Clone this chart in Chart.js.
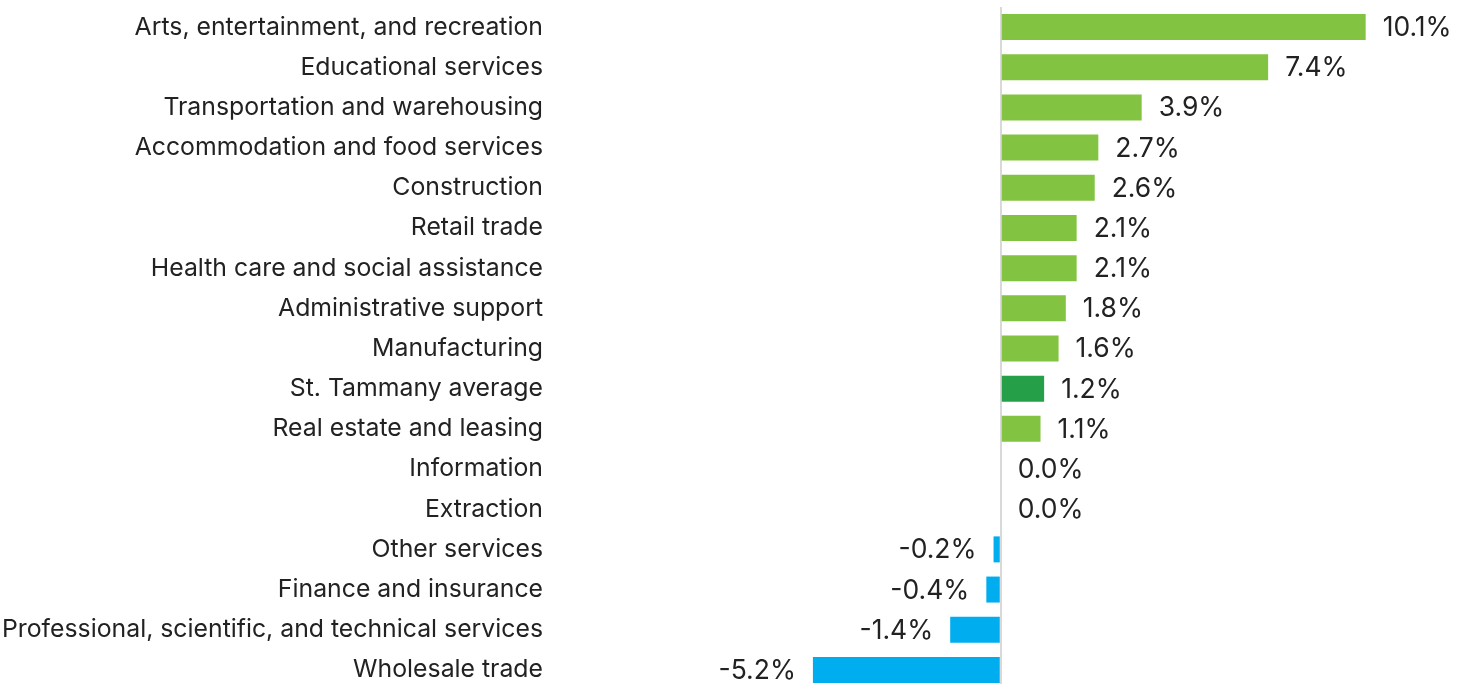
<!DOCTYPE html>
<html><head><meta charset="utf-8">
<script src="https://cdn.jsdelivr.net/npm/chart.js@4.4.1/dist/chart.umd.min.js"></script>
<style>html,body{margin:0;padding:0;background:#fff;overflow:hidden;width:1471px;height:684px}#wrap{width:1471px;height:697px;position:relative}</style>
</head><body><div id="wrap"><canvas id="c"></canvas></div>
<script>
const categories = ["Arts, entertainment, and recreation","Educational services","Transportation and warehousing","Accommodation and food services","Construction","Retail trade","Health care and social assistance","Administrative support","Manufacturing","St. Tammany average","Real estate and leasing","Information","Extraction","Other services","Finance and insurance","Professional, scientific, and technical services","Wholesale trade"];
const values = [10.1,7.4,3.9,2.7,2.6,2.1,2.1,1.8,1.6,1.2,1.1,0.0,0.0,-0.2,-0.4,-1.4,-5.2];
const highlight = "St. Tammany average";
const FONT = "Inter";
const colors = values.map((v,i)=> categories[i]===highlight ? "#25A048" : (v<0 ? "#00AEEF" : "#82C341"));

const valueLabels = {
  id:'valueLabels',
  afterDatasetsDraw(chart){
    const ctx = chart.ctx, meta = chart.getDatasetMeta(0), xs = chart.scales.x;
    ctx.save();
    ctx.font = "26.5px " + FONT;
    ctx.fillStyle = "#222";
    ctx.textBaseline = "middle";
    meta.data.forEach((bar,i)=>{
      const v = values[i];
      const t = v.toFixed(1) + "%";
      if (v < 0){ ctx.textAlign = "right"; ctx.fillText(t, bar.x - 17, bar.y + 1); }
      else { ctx.textAlign = "left"; ctx.fillText(t, Math.max(bar.x, xs.getPixelForValue(0)) + 17, bar.y + 1); }
    });
    ctx.restore();
  }
};

new Chart(document.getElementById('c'), {
  type:'bar',
  data:{labels:categories, datasets:[{data:values, backgroundColor:colors, borderWidth:0, barPercentage:0.647, categoryPercentage:1}]},
  options:{
    indexAxis:'y', responsive:true, maintainAspectRatio:false, animation:false,
    layout:{padding:{top:7,bottom:7,left:0,right:71}},
    plugins:{legend:{display:false}, tooltip:{enabled:false}},
    scales:{
      x:{min:-12.2, max:11.05, ticks:{display:false, stepSize:1}, border:{display:false},
         afterFit:(s)=>{s.height=0; s.paddingLeft=0; s.paddingRight=0;},
         grid:{drawTicks:false, lineWidth:2, color:(c)=> c.tick && c.tick.value===0 ? "#d9d9d9" : "transparent"}},
      y:{afterFit:(s)=>{s.width=560; s.paddingTop=0; s.paddingBottom=0;}, border:{display:false}, grid:{display:false},
         ticks:{color:"#222", padding:9, font:{family:FONT, size:24.8}}}
    }
  },
  plugins:[valueLabels]
});
</script></body></html>
